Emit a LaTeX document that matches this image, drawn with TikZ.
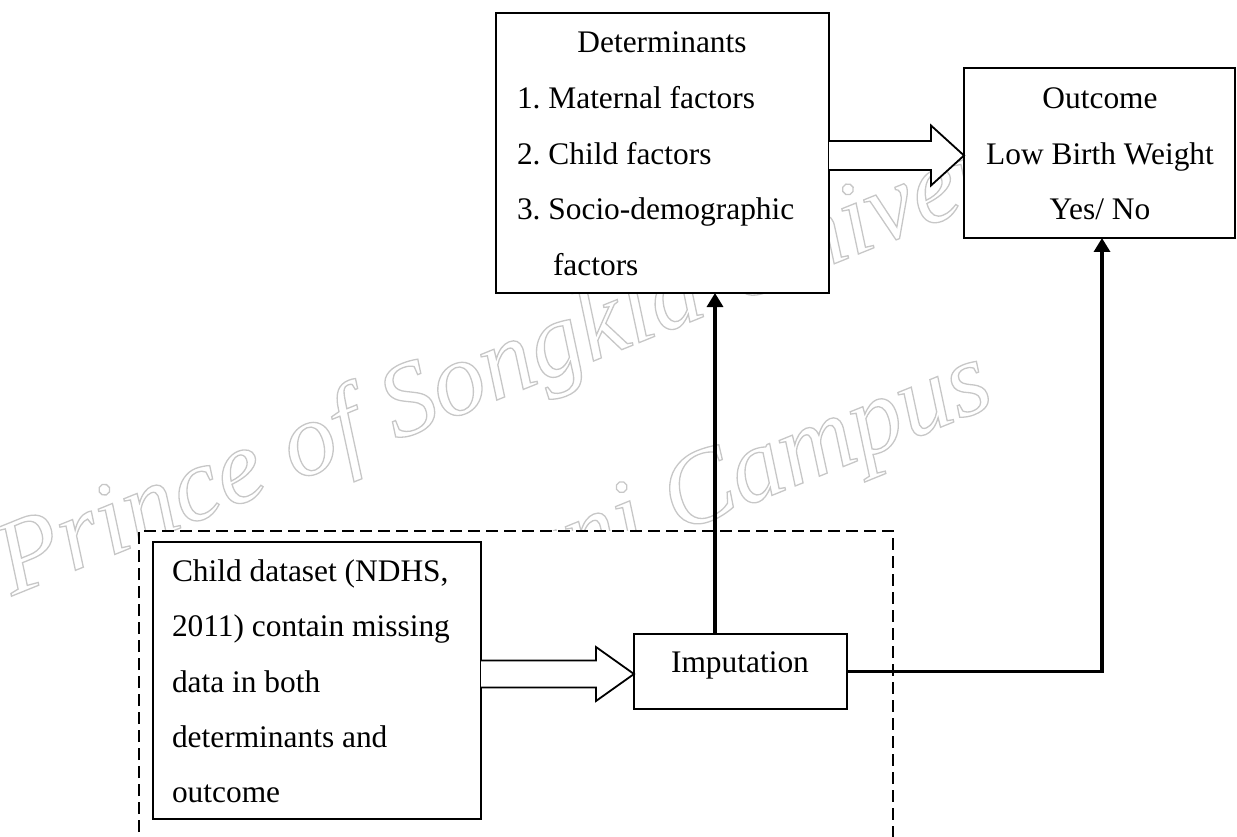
\documentclass[tikz,border=0pt]{standalone}
\usepackage{fontspec}
\setmainfont{Liberation Serif}
\usetikzlibrary{calc,arrows.meta}

% outlined text for the background watermark
\newcommand{\outlinetext}[1]{\special{pdf:literal direct 1 Tr 1.3 w}#1\special{pdf:literal direct 0 Tr}}

\begin{document}
\frenchspacing
\begin{tikzpicture}[x=1pt,y=-1pt,
  box/.style={draw, rectangle, line width=1.8pt, fill=white, inner sep=0pt, outer sep=0pt, anchor=north west},
  lbl/.style={inner sep=0pt, outer sep=0pt, font=\fontsize{31.4}{38}\selectfont, anchor=base west},
  clbl/.style={lbl, anchor=base},
  hollow/.style={draw, line width=1.8pt, fill=white, line join=miter},
  flow/.style={line width=3.3pt, -{Triangle[length=14pt,width=16pt]}},
  dashframe/.style={line width=1.5pt, dash pattern=on 12pt off 6pt},
  wmark/.style={inner sep=0pt, outer sep=0pt, anchor=base west, rotate=22, text=black!22,
    font=\fontsize{105}{110}\selectfont\itshape}]

\useasboundingbox (0,0) rectangle (1237,837);
\clip (0,0) rectangle (1237,837);

% watermark
\node[wmark] (wm1) at (12,596) {\outlinetext{Prince of Songkla University}};
\node[wmark] (wm2) at (367,659) {\outlinetext{Pattani Campus}};

% dashed frame round the data preparation stage
\fill[white] (139,531) rectangle (893,850);
\draw[dashframe] (139,850) |- (893,531) -- (893,850);

% boxes
\node[box, minimum width=333pt, minimum height=280pt] (det) at (496,13) {};
\node[box, minimum width=271pt, minimum height=170pt] (out) at (964,68) {};
\node[box, minimum width=328pt, minimum height=277pt] (child) at (153,542) {};
\node[box, minimum width=213pt, minimum height=75pt] (imp) at (634,634) {};

% determinants
\node[clbl] (detT) at (662,53) {Determinants};
\node[lbl] (det1) at (517,109) {1. Maternal factors};
\node[lbl] (det2) at (517,165) {2. Child factors};
\node[lbl] (det3) at (517,220) {3. Socio-demographic};
\node[lbl] (det4) at (553,276) {factors};

% outcome
\node[clbl] (outT) at (1100,109) {Outcome};
\node[clbl] (out1) at (1100,165) {Low Birth Weight};
\node[clbl] (out2) at (1100,220) {Yes/ No};

% child dataset
\node[lbl] (ch1) at (172,581) {Child dataset (NDHS,};
\node[lbl] (ch2) at (172,636) {2011) contain missing};
\node[lbl] (ch3) at (172,692) {data in both};
\node[lbl] (ch4) at (172,747) {determinants and};
\node[lbl] (ch5) at (172,802) {outcome};

% imputation
\node[clbl] (impT) at (740,672) {Imputation};

% hollow block arrows
\coordinate (b1) at (0,155.5);
\draw[hollow] ($(det.east |- b1)+(0,-14.5)$) -- ($(out.west |- b1)+(-33,-14.5)$) -- ++(0,-15.5)
  -- (out.west |- b1) -- ($(out.west |- b1)+(-33,30)$) -- ++(0,-15.5) -- ($(det.east |- b1)+(0,14.5)$);

\coordinate (b2) at (0,674);
\draw[hollow] ($(child.east |- b2)+(0,-13.5)$) -- ($(imp.west |- b2)+(-38,-13.5)$) -- ++(0,-13.5)
  -- (imp.west |- b2) -- ($(imp.west |- b2)+(-38,27)$) -- ++(0,-13.5) -- ($(child.east |- b2)+(0,13.5)$);

% imputed data feeding both parts of the model
\coordinate (u1) at ([xshift=-25.5pt]imp.north);
\draw[flow] (u1) -- (u1 |- det.south);
\coordinate (u2) at ([xshift=2.5pt]out.south);
\draw[flow] (imp.east) -| (u2);

\end{tikzpicture}
\end{document}
